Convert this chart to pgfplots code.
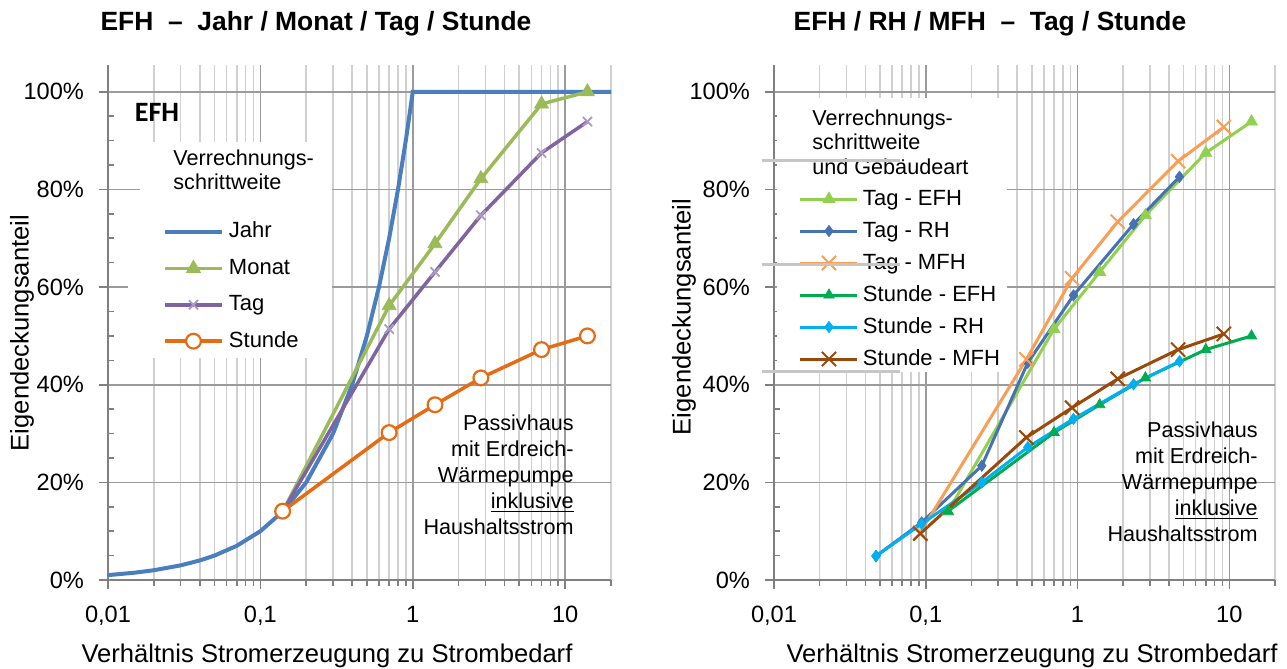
\documentclass[border=0pt]{standalone}
\usepackage{fontspec}
\setmainfont{Liberation Sans}
\newfontfamily\calibri{Carlito}
\usepackage{pgfplots}
\pgfplotsset{compat=1.18}

\definecolor{cJahr}{RGB}{74,126,190}
\definecolor{cMonat}{RGB}{155,187,89}
\definecolor{cTag}{RGB}{128,100,162}
\definecolor{cStunde}{RGB}{230,108,20}
\definecolor{cTagEFH}{RGB}{146,208,80}
\definecolor{cTagRH}{RGB}{70,114,180}
\definecolor{cTagMFH}{RGB}{250,158,85}
\definecolor{cStdEFH}{RGB}{0,172,80}
\definecolor{cStdRH}{RGB}{0,176,240}
\definecolor{cStdMFH}{RGB}{153,74,10}
\definecolor{gmaj}{RGB}{155,155,155}
\definecolor{gmin}{RGB}{208,208,208}

\pgfplotsset{
  efhaxis/.style={
    scale only axis, anchor=south west,
    xmin=0.01, xmax=20, ymin=0, ymax=105.5,
    axis x line*=bottom, axis y line*=left,
    axis line style={draw=gray, line width=0.8pt},
    xtick={0.01,0.1,1,10}, xticklabels={{0,01},{0,1},1,10},
    minor xtick={0.02,0.03,0.04,0.05,0.06,0.07,0.08,0.09,0.2,0.3,0.4,0.5,0.6,0.7,0.8,0.9,2,3,4,5,6,7,8,9,20},
    ytick={0,20,40,60,80,100},
    yticklabels={0\%,20\%,40\%,60\%,80\%,100\%},
    minor ytick={5,10,15,25,30,35,45,50,55,65,70,75,85,90,95},
    xmajorgrids, xminorgrids, ymajorgrids,
    major grid style={draw=gmaj, line width=0.8pt},
    minor grid style={draw=gmin, line width=0.8pt},
    tick align=outside, major tick length=4.5pt, minor tick length=3.2pt,
    tick style={draw=gray, line width=0.8pt},
    minor y tick style={xshift=3.2pt},
    tick label style={font=\fontsize{11.8}{14}\selectfont},
    yticklabel style={xshift=-4pt},
    xticklabel style={yshift=-5pt},
    /pgf/number format/assume math mode=true,
    legend cell align=left,
    legend image code/.code={\draw[mark repeat=2,mark phase=2,##1] plot coordinates {(0pt,0pt) (14.25pt,0pt) (28.5pt,0pt)};},
  },
}

\begin{document}
\begin{tikzpicture}
\useasboundingbox (0pt,0pt) rectangle (643.5pt,334.5pt);

% ---- left: EFH, Jahr / Monat / Tag / Stunde
\begin{axis}[xmode=log, efhaxis, at={(54pt,44.5pt)}, width=251.5pt, height=257.5pt,
  legend style={at={(0.1093,0.701)}, anchor=north west, draw=none, fill=none,
    inner sep=0pt, outer sep=0pt, row sep=5.2pt, /tikz/column sep=1.5pt,
    font=\fontsize{11}{13}\selectfont,
    nodes={inner sep=1pt, text height=8.5pt, text depth=2.5pt}}]
\addplot[cJahr, line width=2pt, no markers] coordinates {
  (0.01,1) (0.015,1.5) (0.02,2) (0.03,3) (0.04,4) (0.05,5) (0.07,7) (0.1,10)
  (0.14,14) (0.2,20) (0.3,30) (0.4,40) (0.5,50) (0.6,60) (0.7,70) (0.8,80)
  (0.9,90) (1,100) (20,100)};
\addlegendentry{Jahr}
\addplot[cMonat, line width=1.75pt, mark=triangle*, mark size=4pt,
  mark options={solid, fill=cMonat, line width=0.4pt}] coordinates {
  (0.14,14) (0.7,56.2) (1.4,68.9) (2.8,82.2) (7,97.5) (14,100)};
\addlegendentry{Monat}
\addplot[cTag, line width=1.75pt, mark=x, mark size=3.2pt,
  mark options={solid, draw=cTag!65!white, line width=0.9pt}] coordinates {
  (0.14,14) (0.7,51.4) (1.4,63.1) (2.8,74.7) (7,87.5) (14,93.9)};
\addlegendentry{Tag}
\addplot[cStunde, line width=1.75pt, mark=*, mark size=3.7pt,
  mark options={solid, fill=white, draw=cStunde, line width=1.1pt}] coordinates {
  (0.14,14.1) (0.7,30.2) (1.4,35.9) (2.8,41.4) (7,47.2) (14,50)};
\addlegendentry{Stunde}
\fill[white] (rel axis cs:0.0636,0.728) rectangle (rel axis cs:0.4453,0.8505);
\fill[white] (rel axis cs:0.0398,0.431) rectangle (rel axis cs:0.4453,0.729);
\end{axis}

% ---- right: EFH / RH / MFH, Tag / Stunde
\begin{axis}[xmode=log, efhaxis, at={(387pt,44.5pt)}, width=250.5pt, height=257.5pt,
  legend style={at={(0.0499,0.765)}, anchor=north west, draw=none, fill=none,
    inner sep=0pt, outer sep=0pt, row sep=3pt, /tikz/column sep=1pt,
    font=\fontsize{11}{13}\selectfont,
    nodes={inner sep=1pt, text height=8.5pt, text depth=2.5pt}}]
\addplot[cTagEFH, line width=1.5pt, mark=triangle*, mark size=3.4pt,
  mark options={solid, fill=cTagEFH, line width=0.4pt}] coordinates {
  (0.14,14) (0.7,51.4) (1.4,63.1) (2.8,74.7) (7,87.5) (14,93.9)};
\addlegendentry{Tag - EFH}
\addplot[cTagRH, line width=1.5pt, mark=diamond*, mark size=2.8pt,
  mark options={solid, fill=cTagRH, line width=0.4pt}] coordinates {
  (0.047,4.9) (0.094,11.8) (0.234,23.4) (0.47,44.5) (0.94,58.3) (2.34,72.9) (4.7,82.6)};
\addlegendentry{Tag - RH}
\addplot[cTagMFH, line width=1.5pt, mark=x, mark size=5pt,
  mark options={solid, line width=1pt}] coordinates {
  (0.092,9.7) (0.46,45.2) (0.92,61.8) (1.84,73.4) (4.6,85.8) (9.2,92.8)};
\addlegendentry{Tag - MFH}
\addplot[cStdEFH, line width=1.5pt, mark=triangle*, mark size=3pt,
  mark options={solid, fill=cStdEFH, line width=0.4pt}] coordinates {
  (0.14,14.1) (0.7,30.2) (1.4,35.9) (2.8,41.4) (7,47.2) (14,50)};
\addlegendentry{Stunde - EFH}
\addplot[cStdRH, line width=1.5pt, mark=diamond*, mark size=2.8pt,
  mark options={solid, fill=cStdRH, line width=0.4pt}] coordinates {
  (0.047,4.9) (0.094,11.5) (0.234,20) (0.47,27.2) (0.94,33) (2.34,40.1) (4.7,44.8)};
\addlegendentry{Stunde - RH}
\addplot[cStdMFH, line width=1.5pt, mark=x, mark size=5pt,
  mark options={solid, line width=1pt}] coordinates {
  (0.092,9.5) (0.46,29.2) (0.92,35.3) (1.84,41.2) (4.6,47.2) (9.2,50.4)};
\addlegendentry{Stunde - MFH}
\fill[white] (rel axis cs:0.005,0.4039) rectangle (rel axis cs:0.466,0.936);
\end{axis}

% titles
\node[anchor=base, font=\fontsize{13.2}{16}\selectfont\bfseries] at (158pt,319pt)
  {EFH~~–~~Jahr / Monat / Tag / Stunde};
\node[anchor=base, font=\fontsize{13.2}{16}\selectfont\bfseries] at (495pt,319pt)
  {EFH / RH / MFH~~–~~Tag / Stunde};

% axis labels
\node[rotate=90, font=\fontsize{12.8}{15}\selectfont] at (11pt,168pt) {Eigendeckungsanteil};
\node[rotate=90, font=\fontsize{12.8}{15}\selectfont] at (342pt,176pt) {Eigendeckungsanteil};
\node[font=\fontsize{12.8}{15}\selectfont] at (163.5pt,6.5pt) {Verhältnis Stromerzeugung zu Strombedarf};
\node[font=\fontsize{12.8}{15}\selectfont] at (516pt,6.5pt) {Verhältnis Stromerzeugung zu Strombedarf};

% legend headings and labels
\node[font=\calibri\bfseries\fontsize{14}{16}\selectfont] at (78.5pt,278.5pt) {EFH};
\node[anchor=base west, font=\fontsize{10.8}{13}\selectfont, inner sep=0pt] at (86.5pt,251.5pt) {Verrechnungs-};
\node[anchor=base west, font=\fontsize{10.8}{13}\selectfont, inner sep=0pt] at (86.5pt,239.5pt) {schrittweite};
\node[anchor=base west, font=\fontsize{10.8}{13}\selectfont, inner sep=0pt] at (406pt,271.5pt) {Verrechnungs-};
\node[anchor=base west, font=\fontsize{10.8}{13}\selectfont, inner sep=0pt] at (406pt,259.5pt) {schrittweite};
\node[anchor=base west, font=\fontsize{10.8}{13}\selectfont, inner sep=0pt] at (406pt,247pt) {und Gebäudeart};

% notes
\node[anchor=north east, align=right, inner sep=0pt, font=\fontsize{10.8}{13}\selectfont] at (287pt,127.5pt)
  {Passivhaus\\mit Erdreich-\\Wärmepumpe\\\underline{inklusive}\\Haushaltsstrom};
\node[anchor=north east, align=right, inner sep=0pt, font=\fontsize{10.8}{13}\selectfont] at (629pt,124pt)
  {Passivhaus\\mit Erdreich-\\Wärmepumpe\\\underline{inklusive}\\Haushaltsstrom};

% stray grey strokes over the right legend
\draw[gray!45, line width=1.5pt] (381pt,254pt) -- (450pt,254pt);
\draw[gray!45, line width=1.5pt] (381pt,202pt) -- (450pt,202pt);
\draw[gray!45, line width=1.5pt] (381pt,148.5pt) -- (450pt,148.5pt);
\end{tikzpicture}
\end{document}
